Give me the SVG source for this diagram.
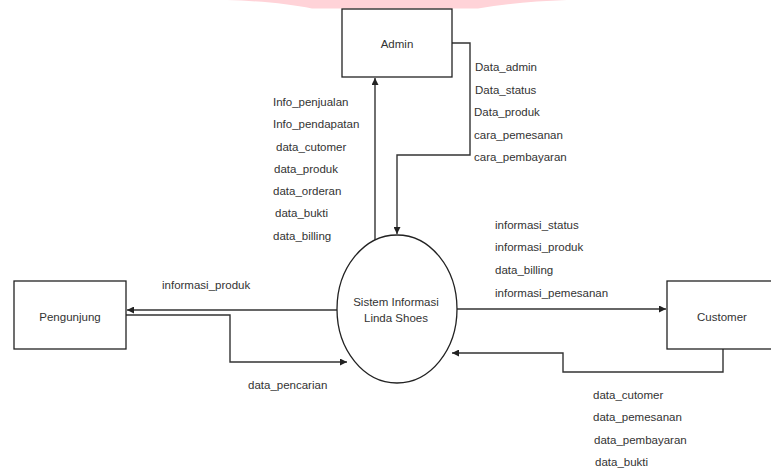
<svg xmlns="http://www.w3.org/2000/svg" width="771" height="472" viewBox="0 0 771 472">
<style>
.box{fill:#fff;stroke:#222;stroke-width:1.3}
.ln{fill:none;stroke:#333;stroke-width:1.4}
text{font-family:"Liberation Sans",Arial,sans-serif;font-size:11.5px;fill:#333}
.c{text-anchor:middle}
</style>
<defs>
<marker id="ah" viewBox="0 0 10 10" refX="10" refY="5" markerWidth="7" markerHeight="7" markerUnits="userSpaceOnUse" orient="auto">
<path d="M0,0 L10,5 L0,10 z" fill="#222"/>
</marker>
</defs>
<rect width="771" height="472" fill="#fff"/>
<path d="M227,0 C260,1 290,4 312,8.5 L478,8.5 C505,4 535,1 567,0 Z" fill="#ffd3d8"/>
<g id="connectors">
<path class="ln" d="M375,240 L375,78" marker-end="url(#ah)"/>
<path class="ln" d="M452,43 L470,43 L470,155 L397,155 L397,234" marker-end="url(#ah)"/>
<path class="ln" d="M337,310 L127,310" marker-end="url(#ah)"/>
<path class="ln" d="M126,315 L230,315 L230,362 L347,362" marker-end="url(#ah)"/>
<path class="ln" d="M457,309 L666,309" marker-end="url(#ah)"/>
<path class="ln" d="M723,349 L723,372 L563,372 L563,353 L452,353" marker-end="url(#ah)"/>
</g>
<g id="labels">
<text x="273" y="106">Info_penjualan</text>
<text x="273" y="128">Info_pendapatan</text>
<text x="276" y="151">data_cutomer</text>
<text x="274" y="173">data_produk</text>
<text x="273" y="195">data_orderan</text>
<text x="275" y="217">data_bukti</text>
<text x="273" y="240">data_billing</text>
<text x="475" y="71">Data_admin</text>
<text x="475" y="94">Data_status</text>
<text x="474" y="116">Data_produk</text>
<text x="474" y="139">cara_pemesanan</text>
<text x="474" y="161">cara_pembayaran</text>
<text x="495" y="229">informasi_status</text>
<text x="495" y="251">informasi_produk</text>
<text x="495" y="274">data_billing</text>
<text x="495" y="297">informasi_pemesanan</text>
<text x="162" y="289">informasi_produk</text>
<text x="248" y="389">data_pencarian</text>
<text x="593" y="399">data_cutomer</text>
<text x="593" y="421">data_pemesanan</text>
<text x="594" y="444">data_pembayaran</text>
<text x="595" y="466">data_bukti</text>
</g>
<g id="admin">
<rect class="box" x="342" y="9" width="110" height="68"/>
<text class="c" x="397" y="48">Admin</text>
</g>
<g id="sistem">
<ellipse class="box" cx="397" cy="309" rx="60" ry="74" stroke="#444"/>
<text class="c" x="396" y="306">Sistem Informasi</text>
<text class="c" x="396" y="322">Linda Shoes</text>
</g>
<g id="pengunjung">
<rect class="box" x="14" y="281" width="112" height="68"/>
<text class="c" x="70" y="321">Pengunjung</text>
</g>
<g id="customer">
<rect class="box" x="667" y="281" width="110" height="68"/>
<text class="c" x="722" y="321">Customer</text>
</g>
</svg>
